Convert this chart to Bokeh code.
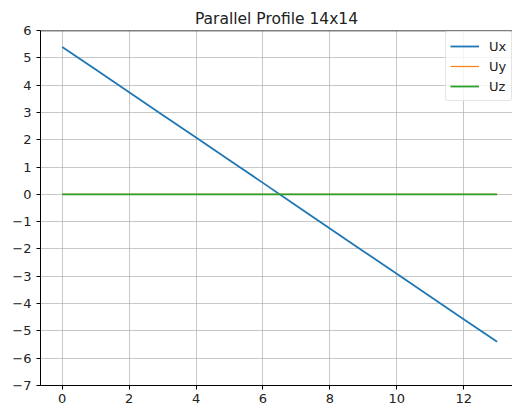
from bokeh.plotting import figure
from bokeh.models import Range1d, Span, Legend, LegendItem, FixedTicker
from bokeh.embed import file_html
from bokeh.resources import INLINE

x_vals = [0, 1, 2, 3, 4, 5, 6, 7, 8, 9, 10, 11, 12, 13]
ux = [5.40, 4.57, 3.74, 2.91, 2.08, 1.25, 0.42, -0.42, -1.25, -2.08, -2.91, -3.74, -4.57, -5.40]
uy = [0, 0, 0, 0, 0, 0, 0, 0, 0, 0, 0, 0, 0, 0]
uz = [0, 0, 0, 0, 0, 0, 0, 0, 0, 0, 0, 0, 0, 0]
x_ticks = [0, 2, 4, 6, 8, 10, 12]
y_ticks = [-7, -6, -5, -4, -3, -2, -1, 0, 1, 2, 3, 4, 5, 6]
title_text = "Parallel Profile 14x14"

FONT = "DejaVu Sans"

p = figure(width=512, height=413, output_backend="svg", toolbar_location=None,
           x_range=Range1d(-0.65, 13.46), y_range=Range1d(-7, 6),
           min_border_left=40, min_border_right=0, min_border_top=30, min_border_bottom=28)
p.title.text = title_text
p.title.align = "center"
p.title.offset = 2
p.title.text_font = FONT
p.title.text_font_size = "15.5px"
p.title.text_font_style = "normal"
p.title.text_color = "#222222"
p.title.standoff = 5

p.outline_line_color = None
p.background_fill_color = "white"
p.border_fill_color = "white"

for ax in (p.xaxis[0], p.yaxis[0]):
    ax.axis_line_color = "black"
    ax.axis_line_width = 1
    ax.major_tick_line_color = "black"
    ax.major_tick_out = 4
    ax.major_tick_in = 0
    ax.minor_tick_line_color = None
    ax.major_label_text_font = FONT
    ax.major_label_text_font_size = "13px"
    ax.major_label_text_color = "#222222"

p.xaxis.ticker = FixedTicker(ticks=x_ticks)
p.yaxis.ticker = FixedTicker(ticks=y_ticks)
p.yaxis.major_label_overrides = {t: (("\u2212" + str(abs(t))) if t < 0 else str(t)) for t in y_ticks}
p.xaxis.major_label_standoff = 4
p.yaxis.major_label_standoff = 5

p.xgrid.ticker = FixedTicker(ticks=x_ticks)
p.ygrid.ticker = FixedTicker(ticks=y_ticks)
p.grid.grid_line_color = "#b0b0b0"
p.grid.grid_line_alpha = 0.7
p.grid.grid_line_width = 1

top_spine = Span(location=6, dimension="width", line_color="black", line_width=1.5)
p.add_layout(top_spine)

r1 = p.line(x_vals, ux, line_color="#1f77b4", line_width=1.8)
r2 = p.line(x_vals, uy, line_color="#ff7f0e", line_width=1.2)
r3 = p.line(x_vals, uz, line_color="#2ca02c", line_width=1.8)

legend = Legend(items=[LegendItem(label="Ux", renderers=[r1]),
                       LegendItem(label="Uy", renderers=[r2]),
                       LegendItem(label="Uz", renderers=[r3])],
                location=(405, 284))
legend.margin = 0
legend.padding = 4
legend.spacing = 0
legend.glyph_width = 29
legend.glyph_height = 20
legend.label_height = 20
legend.label_width = 18
legend.label_standoff = 10
legend.label_text_font = FONT
legend.label_text_font_size = "13px"
legend.label_text_color = "#222222"
legend.border_line_color = "#cccccc"
legend.border_line_width = 1
legend.border_radius = 3
legend.background_fill_alpha = 0.8
p.add_layout(legend)

open("out.html", "w").write(file_html(p, INLINE))
